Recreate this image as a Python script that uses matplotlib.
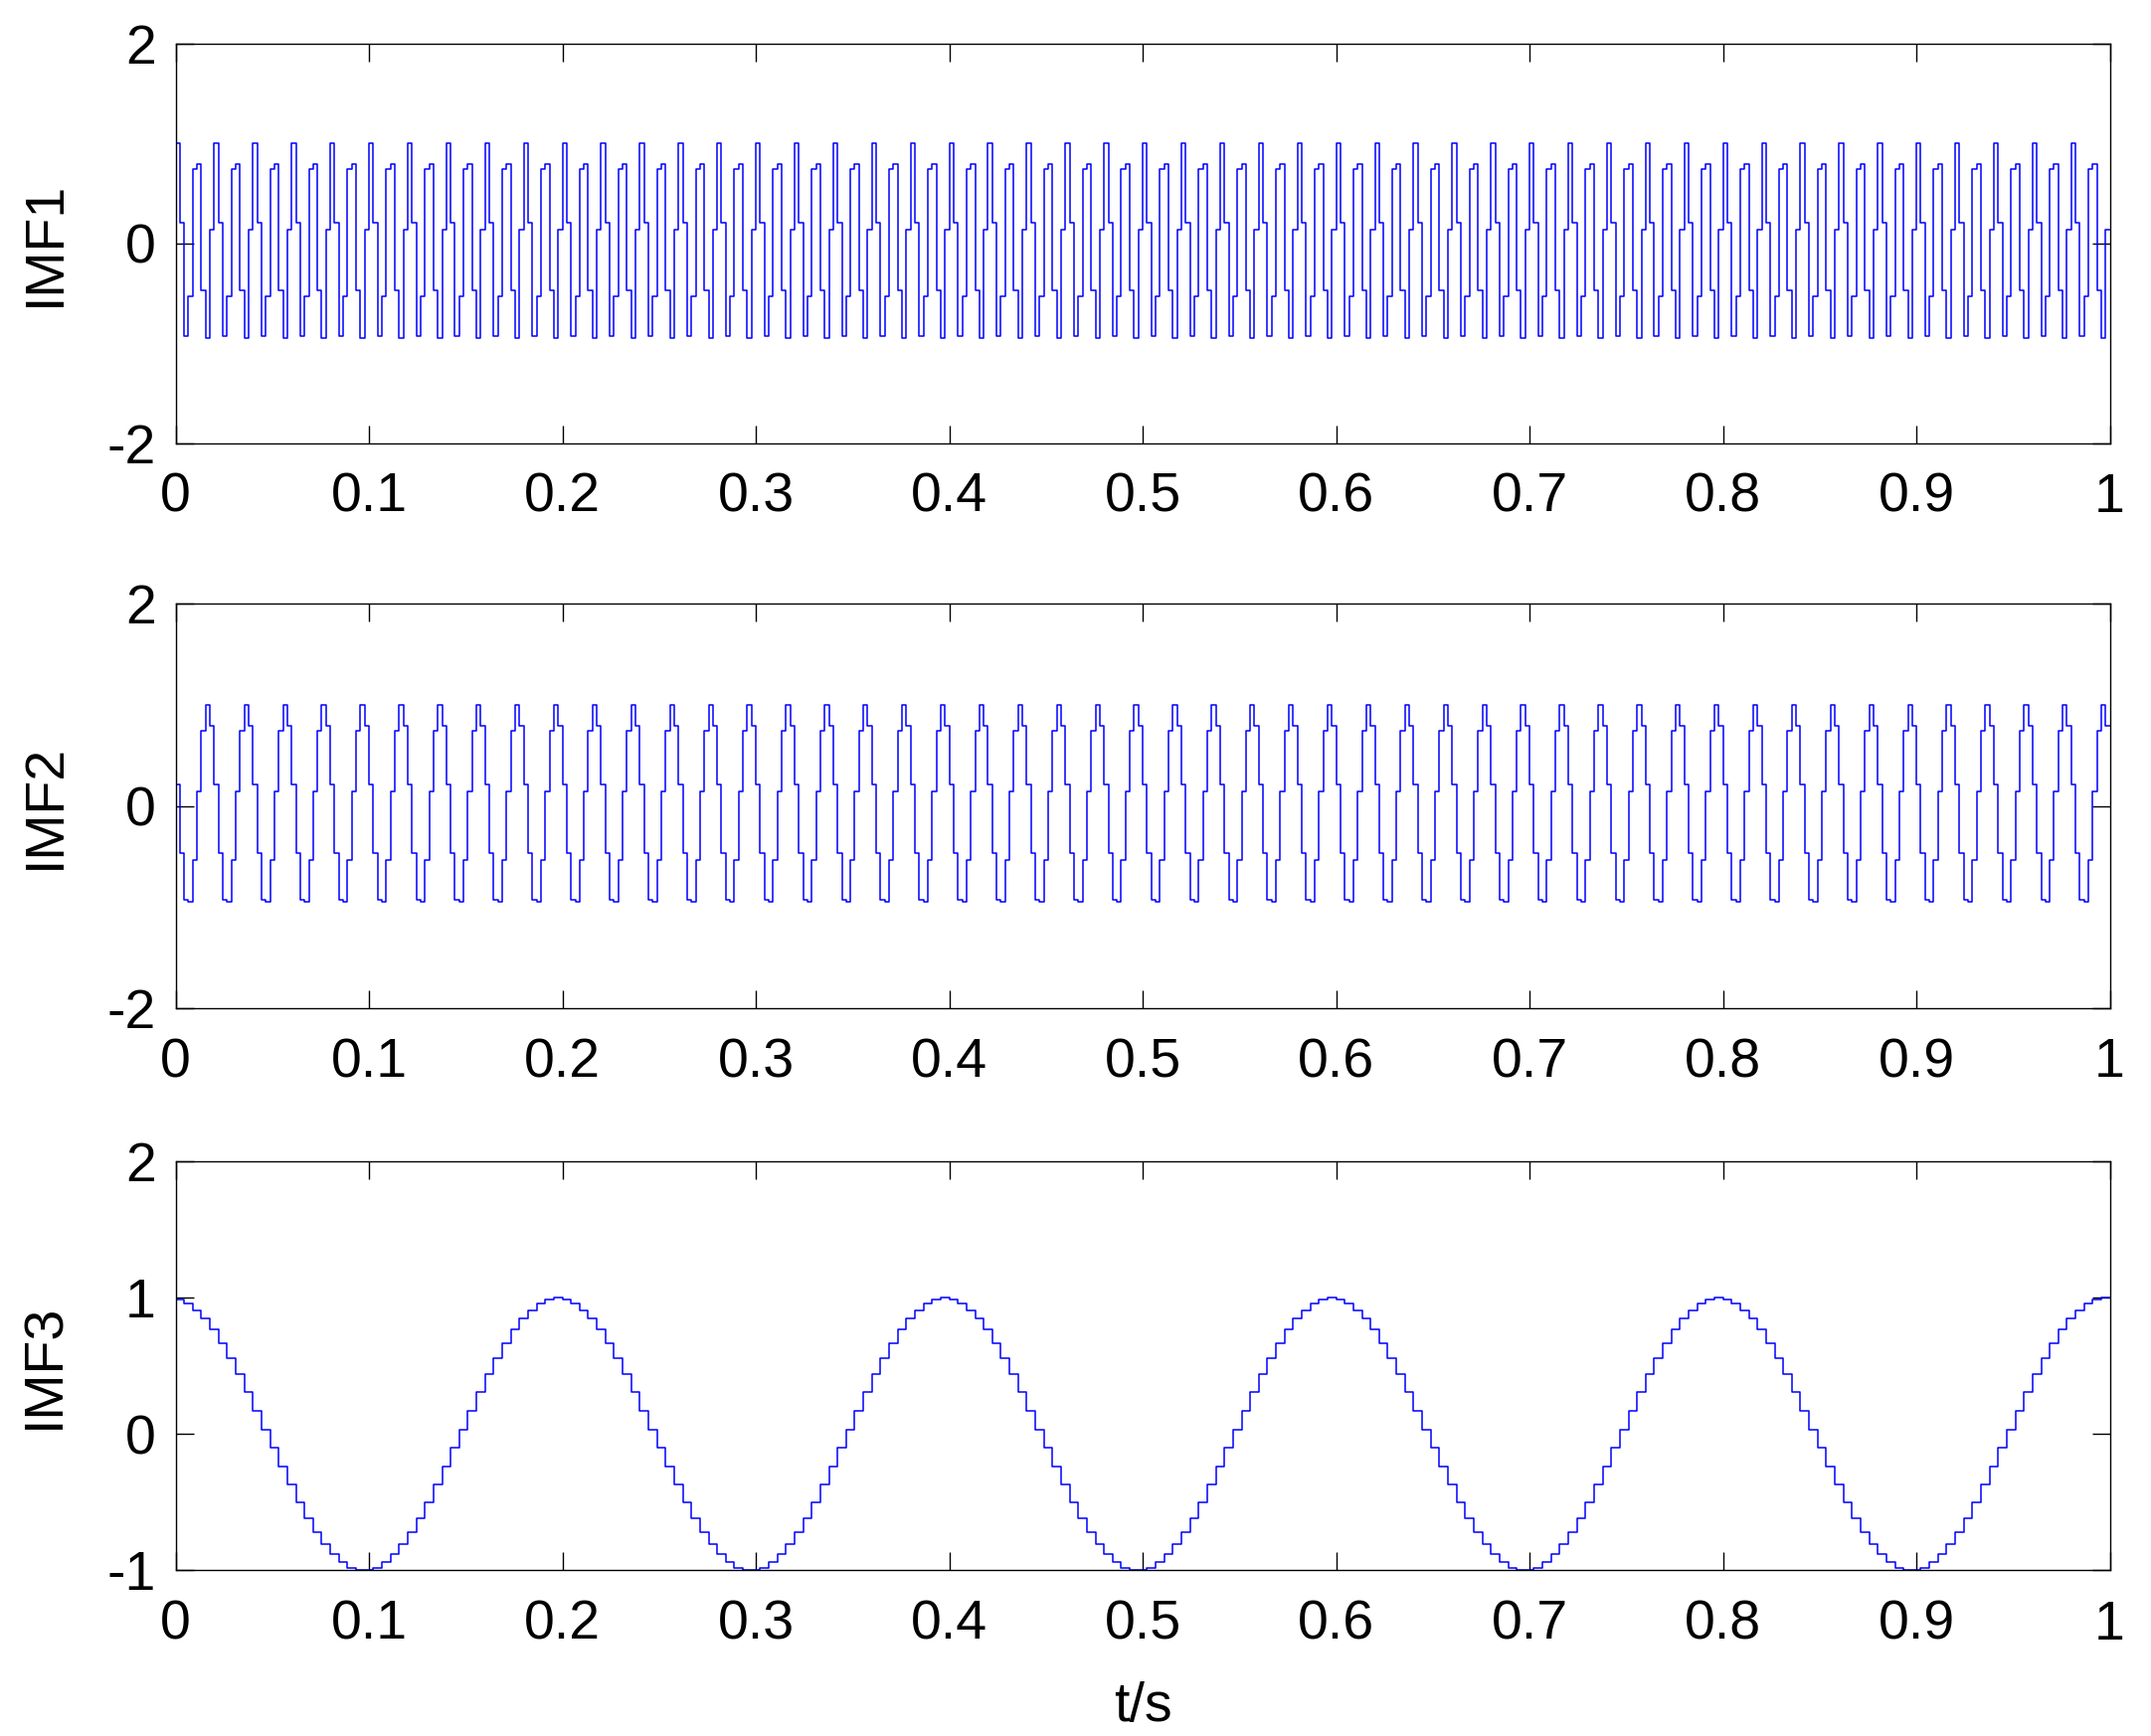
import numpy as np
import matplotlib
matplotlib.use("Agg")
import matplotlib.pyplot as plt

# sample values, one repeating block per component
fs_fast = 450          # samples per second for IMF1 / IMF2
imf1_block = [0.14, 1.00, 0.21, -0.93, -0.53, 0.74, 0.79, -0.47, -0.95]   # 0.02 s
imf2_block = [0.79, 0.21, -0.47, -0.93, -0.95, -0.53, 0.14, 0.74, 1.00]   # 0.02 s
n_fast_blocks = 50

fs_slow = 225          # samples per second for IMF3
imf3_block = [1.00, 0.99, 0.96, 0.91, 0.85, 0.77, 0.67, 0.56, 0.44, 0.31,
              0.17, 0.03, -0.10, -0.24, -0.37, -0.50, -0.62, -0.72, -0.81, -0.88,
              -0.94, -0.98, -1.00, -1.00, -0.98, -0.94, -0.88, -0.81, -0.72, -0.62,
              -0.50, -0.37, -0.24, -0.10, 0.03, 0.17, 0.31, 0.44, 0.56, 0.67,
              0.77, 0.85, 0.91, 0.96, 0.99]                                # 0.2 s
n_slow_blocks = 5

labels = ["IMF1", "IMF2", "IMF3"]
ylims = [(-2, 2), (-2, 2), (-1, 2)]
yticks = [[-2, 0, 2], [-2, 0, 2], [-1, 0, 1, 2]]
xticks = [0, 0.1, 0.2, 0.3, 0.4, 0.5, 0.6, 0.7, 0.8, 0.9, 1]
xticklabels = ["0", "0.1", "0.2", "0.3", "0.4", "0.5", "0.6", "0.7", "0.8", "0.9", "1"]


def build(block, reps):
    # repeat the read block and close the record at t = 1 s
    return np.append(np.tile(block, reps), block[0])


imf1 = build(imf1_block, n_fast_blocks)
imf2 = build(imf2_block, n_fast_blocks)
imf3 = build(imf3_block, n_slow_blocks)
t_fast = np.arange(len(imf1)) / fs_fast
t_slow = np.arange(len(imf3)) / fs_slow
series = [(t_fast, imf1), (t_fast, imf2), (t_slow, imf3)]

plt.rcParams['font.family'] = ['Liberation Sans', 'DejaVu Sans']
FS = 40

fig = plt.figure(figsize=(21.63, 17.46), dpi=100)
boxes = [
    [0.0816, 0.7448, 0.8993, 0.2300],
    [0.0816, 0.4192, 0.8993, 0.2331],
    [0.0816, 0.0954, 0.8993, 0.2354],
]

for i, box in enumerate(boxes):
    ax = fig.add_axes(box)
    t, y = series[i]
    ax.plot(t, y, color='#0000FF', linewidth=1.1, drawstyle='steps-pre')
    ax.set_xlim(0, 1)
    ax.set_ylim(*ylims[i])
    ax.set_xticks(xticks)
    ax.set_xticklabels(xticklabels)
    ax.set_yticks(yticks[i])
    ax.set_yticklabels([str(v) for v in yticks[i]])
    ax.tick_params(direction='in', length=13, width=1, labelsize=FS,
                   top=True, right=True, pad=14)
    ax.tick_params(axis='x', pad=21)
    for s in ax.spines.values():
        s.set_linewidth(1)
    ax.set_ylabel(labels[i], fontsize=FS, labelpad=26)
    if i == 2:
        ax.set_xlabel("t/s", fontsize=FS, labelpad=22)

fig.savefig("out.png", dpi=100)
